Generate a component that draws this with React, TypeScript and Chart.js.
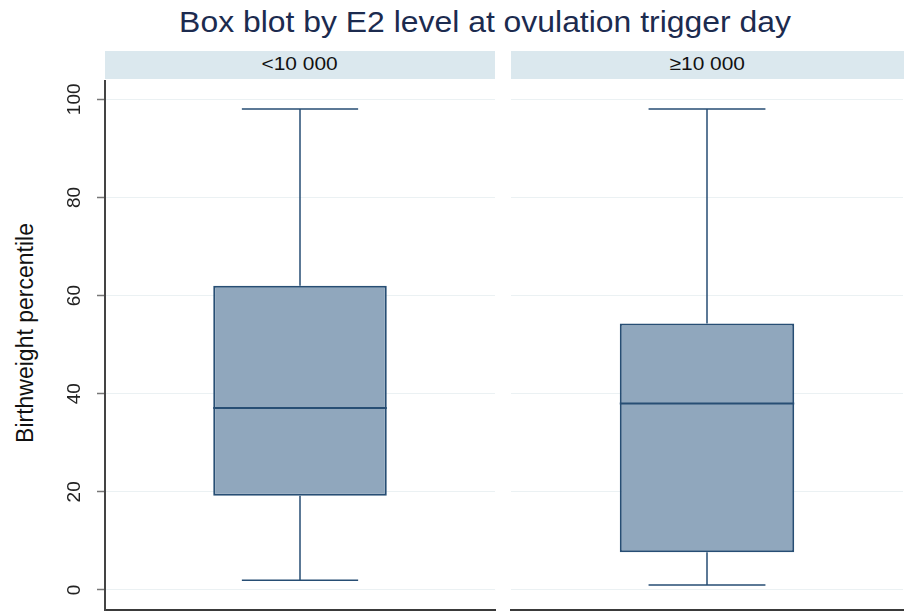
import React, { useEffect, useRef } from 'react';
import { Chart, registerables } from 'chart.js';

Chart.register(...registerables);

// ---- data ----
const groups = ['<10 000', '≥10 000'];
const lowerWhisker = [2.0, 1.0];
const q1 = [19.2, 7.7];
const medians = [37.1, 38.0];
const q3 = [62.0, 54.3];
const upperWhisker = [98.0, 98.0];
const yTicks = [0, 20, 40, 60, 80, 100];
const yMin = -4.08;
const yMax = 103.93;

const chartTitle = 'Box blot by E2 level at ovulation trigger day';
const yTitle = 'Birthweight percentile';

// ---- styles ----
const FONT = '"Liberation Sans", Arial, Helvetica, sans-serif';
const BOX_FILL = '#90a7bd';
const BOX_LINE = '#274e74';
const GRID = '#ebf1f3';
const STRIP = '#dbe8ee';

Chart.defaults.font.family = FONT;

const whiskerPlugin = (i: number) => ({
  id: 'whiskers' + i,
  afterDatasetsDraw(chart: any) {
    const meta = chart.getDatasetMeta(0);
    const el = meta.data[0];
    if (!el) return;
    const { x, width } = el.getProps(['x', 'width'], true);
    const ys = chart.scales.y;
    const ctx = chart.ctx;
    const yUp = ys.getPixelForValue(upperWhisker[i]);
    const yQ3 = ys.getPixelForValue(q3[i]);
    const yQ1 = ys.getPixelForValue(q1[i]);
    const yLo = ys.getPixelForValue(lowerWhisker[i]);
    const yMed = ys.getPixelForValue(medians[i]);
    const cap = (width * 0.67) / 2;
    ctx.save();
    ctx.strokeStyle = BOX_LINE;
    ctx.lineWidth = 1.5;
    ctx.beginPath();
    ctx.moveTo(x, yQ3);
    ctx.lineTo(x, yUp);
    ctx.moveTo(x - cap, yUp);
    ctx.lineTo(x + cap, yUp);
    ctx.moveTo(x, yQ1);
    ctx.lineTo(x, yLo);
    ctx.moveTo(x - cap, yLo);
    ctx.lineTo(x + cap, yLo);
    ctx.stroke();
    ctx.lineWidth = 2;
    ctx.beginPath();
    ctx.moveTo(x - width / 2, yMed);
    ctx.lineTo(x + width / 2, yMed);
    ctx.stroke();
    ctx.restore();
  },
});

function makeConfig(i: number, showAxis: boolean): any {
  return {
    type: 'bar',
    data: {
      labels: [groups[i]],
      datasets: [
        {
          data: [[q1[i], q3[i]]],
          backgroundColor: BOX_FILL,
          borderColor: BOX_LINE,
          borderWidth: 2,
          borderSkipped: false,
          barPercentage: 0.445,
          categoryPercentage: 1,
        },
      ],
    },
    options: {
      responsive: false,
      animation: false,
      events: [],
      layout: {
        padding: showAxis
          ? { left: 0, right: 2, top: 0, bottom: 1 }
          : { left: 14, right: 1, top: 0, bottom: 1 },
      },
      plugins: {
        legend: { display: false },
        tooltip: { enabled: false },
        title: { display: false },
      },
      scales: {
        x: {
          type: 'category',
          ticks: { display: false },
          grid: { display: false, drawTicks: false },
          border: { display: true, color: '#3a3a3a', width: 2 },
          afterFit: (s: any) => {
            s.height = 0;
            s.paddingLeft = 0;
            s.paddingRight = 0;
          },
        },
        y: {
          type: 'linear',
          min: yMin,
          max: yMax,
          bounds: 'data',
          afterBuildTicks: (s: any) => {
            s.ticks = yTicks.map((v) => ({ value: v }));
          },
          grid: {
            color: GRID,
            lineWidth: 1,
            drawTicks: showAxis,
            tickLength: 8,
            tickColor: '#777',
            tickWidth: 1.5,
          },
          border: { display: showAxis, color: '#444', width: 2 },
          ticks: {
            display: showAxis,
            minRotation: 90,
            maxRotation: 90,
            crossAlign: 'center',
            padding: 6,
            color: '#222',
            font: { family: FONT, size: 19 },
          },
          title: { display: false },
          afterFit: (s: any) => {
            s.width = showAxis ? 105 : 0;
            s.paddingTop = 0;
            s.paddingBottom = 0;
          },
        },
      },
    },
    plugins: [whiskerPlugin(i)],
  };
}

export default function App() {
  const c1 = useRef<HTMLCanvasElement | null>(null);
  const c2 = useRef<HTMLCanvasElement | null>(null);

  useEffect(() => {
    const a = new Chart(c1.current as HTMLCanvasElement, makeConfig(0, true));
    const b = new Chart(c2.current as HTMLCanvasElement, makeConfig(1, false));
    return () => {
      a.destroy();
      b.destroy();
    };
  }, []);

  const stripStyle = (left: number, width: number): React.CSSProperties => ({
    position: 'absolute',
    left,
    top: 51,
    width,
    height: 28,
    background: STRIP,
    textAlign: 'center',
    lineHeight: '26px',
    fontSize: 19,
    color: '#111',
    whiteSpace: 'nowrap',
  });

  return (
    <div
      style={{
        position: 'absolute',
        left: 0,
        top: 0,
        width: 904,
        height: 611,
        background: '#fff',
        fontFamily: FONT,
        overflow: 'hidden',
      }}
    >
      <div
        style={{
          position: 'absolute',
          left: 485,
          top: 8,
          transform: 'translateX(-50%) scaleX(1.1)',
          fontSize: 29,
          lineHeight: '29px',
          color: '#1c2b4f',
          whiteSpace: 'nowrap',
        }}
      >
        {chartTitle}
      </div>
      <div
        style={{
          position: 'absolute',
          left: 25,
          top: 332.5,
          transform: 'translate(-50%, -50%) rotate(-90deg)',
          fontSize: 23,
          lineHeight: '23px',
          color: '#111',
          whiteSpace: 'nowrap',
        }}
      >
        {yTitle}
      </div>
      <div style={stripStyle(105, 390)}>
        <span style={{ display: 'inline-block', transform: 'scaleX(1.1)' }}>{groups[0]}</span>
      </div>
      <div style={stripStyle(511, 393)}>
        <span style={{ display: 'inline-block', transform: 'scaleX(1.1)' }}>{groups[1]}</span>
      </div>
      <canvas
        ref={c1}
        width={497}
        height={531}
        style={{ position: 'absolute', left: 0, top: 80, width: 497, height: 531 }}
      />
      <canvas
        ref={c2}
        width={407}
        height={531}
        style={{ position: 'absolute', left: 497, top: 80, width: 407, height: 531 }}
      />
    </div>
  );
}
